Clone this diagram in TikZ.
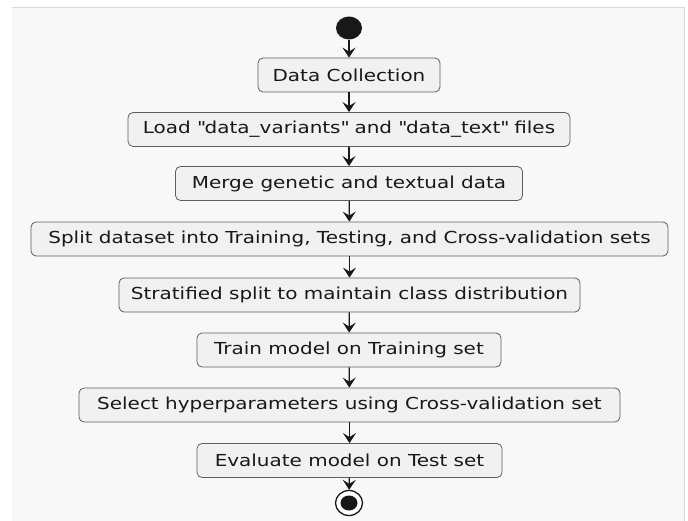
\documentclass[tikz,border=0pt]{standalone}
\usepackage{fontspec}
\setmainfont[FakeStretch=1.21]{DejaVu Sans}
\usetikzlibrary{arrows.meta,shapes.geometric}
\definecolor{panelbg}{HTML}{F8F8F8}
\definecolor{panelline}{HTML}{D8D8E2}
\definecolor{boxfill}{HTML}{F1F1F1}
\definecolor{boxline}{HTML}{5E5E5E}
\definecolor{ink}{HTML}{181818}
\begin{document}
\begin{tikzpicture}[x=1pt,y=-1pt,
  act/.style={draw=boxline, fill=boxfill, line width=0.8pt, rounded corners=5pt,
    minimum height=34pt, inner xsep=0pt, font=\fontsize{16.5}{18}\selectfont, text=ink},
  flow/.style={draw=ink, line width=1.2pt, -{Stealth[length=10pt,width=13pt,inset=4pt]}}]
\useasboundingbox (0,0) rectangle (688,521);
\fill[white] (0,0) rectangle (688,521);
\fill[panelbg] (12,7) rectangle (685,521);
\draw[panelline, line width=1pt] (12,7.5) -- (685,7.5);
\draw[panelline, line width=1pt] (684.5,7) -- (684.5,521);
\node[fill=ink, ellipse, minimum width=26pt, minimum height=23pt, inner sep=0pt] (start) at (349,28) {};
\node[act, minimum width=182pt] (n1) at (349,75) {Data Collection};
\node[act, minimum width=442pt] (n2) at (349,129.5) {Load \textquotedbl data\_variants\textquotedbl{} and \textquotedbl data\_text\textquotedbl{} files};
\node[act, minimum width=347pt] (n3) at (349,183.5) {Merge genetic and textual data};
\node[act, minimum width=637pt] (n4) at (349.5,239) {Split dataset into Training, Testing, and Cross-validation sets};
\node[act, minimum width=461pt] (n5) at (349.5,295) {Stratified split to maintain class distribution};
\node[act, minimum width=304pt] (n6) at (349,350) {Train model on Training set};
\node[act, minimum width=541pt] (n7) at (349.5,405) {Select hyperparameters using Cross-validation set};
\node[act, minimum width=305pt] (n8) at (349.5,460.5) {Evaluate model on Test set};
\node[draw=ink, fill=white, line width=1.3pt, ellipse, minimum width=27pt, minimum height=25pt, inner sep=0pt] (stop) at (349,503) {};
\fill[ink] (stop.center) ellipse (8.5pt and 7.5pt);
\draw[flow] (start) -- (n1);
\draw[flow] (n1) -- (n2);
\draw[flow] (n2) -- (n3);
\draw[flow] (n3) -- (n4);
\draw[flow] (n4) -- (n5);
\draw[flow] (n5) -- (n6);
\draw[flow] (n6) -- (n7);
\draw[flow] (n7) -- (n8);
\draw[flow] (n8) -- (stop);
\end{tikzpicture}
\end{document}
